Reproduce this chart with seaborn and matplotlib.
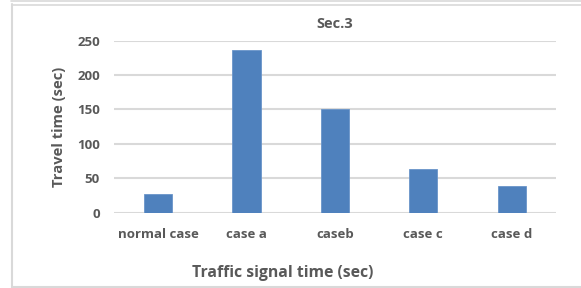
import matplotlib
matplotlib.use("Agg")
import matplotlib.pyplot as plt
import pandas as pd
import seaborn as sns
from matplotlib.lines import Line2D

# chart data
cases = ["normal case", "case a", "caseb", "case c", "case d"]
travel_time = [27, 236, 150, 64, 39]
y_ticks = [0, 50, 100, 150, 200, 250]

BAR_COLOR = "#4f81bd"
GRID_COLOR = "#d9d9d9"
TEXT_COLOR = "#595959"

W, H = 581, 288

sns.set_theme(style="white")
plt.rcParams["font.family"] = ["Open Sans", "DejaVu Sans"]

df = pd.DataFrame({"case": cases, "time": travel_time})

fig = plt.figure(figsize=(W / 100, H / 100), dpi=100)
ax = fig.add_axes([113.75 / W, 1 - 212.7 / H, (556 - 113.75) / W, (212.7 - 40.7) / H])

sns.barplot(data=df, x="case", y="time", color=BAR_COLOR, width=0.32,
            saturation=1, edgecolor="#6a95c9", linewidth=0.6, ax=ax, zorder=3)

ax.set_ylim(0, 250)
ax.set_yticks(y_ticks)
ax.set_xlim(-0.5, len(cases) - 0.5)
for t in y_ticks:
    ax.axhline(t, color=GRID_COLOR, linewidth=1.5, zorder=1)
for s in ax.spines.values():
    s.set_visible(False)
ax.tick_params(axis="both", length=0, colors=TEXT_COLOR, labelsize=9.5)
ax.tick_params(axis="x", pad=11)
ax.tick_params(axis="y", pad=10)
for lbl in ax.get_xticklabels() + ax.get_yticklabels():
    lbl.set_fontweight("bold")
    lbl.set_color(TEXT_COLOR)

ax.set_xlabel("Traffic signal time (sec)", fontsize=11.3, fontweight="bold", color=TEXT_COLOR)
ax.xaxis.set_label_coords((283 - 113.75) / (556 - 113.75), -(273 - 212.7) / (212.7 - 40.7))
ax.xaxis.label.set_va("center")
ax.set_ylabel("Travel time (sec)", fontsize=10.6, fontweight="bold", color=TEXT_COLOR)
ax.yaxis.set_label_coords(-(113.75 - 59) / (556 - 113.75), 0.5)
ax.yaxis.label.set_va("center")
ax.set_title("Sec.3", fontsize=10.5, fontweight="bold", color=TEXT_COLOR, pad=9)

# outer chart frame
fig.add_artist(Line2D([12 / W, 12 / W], [0, 1 - 4 / H], color=GRID_COLOR, linewidth=1.5))
fig.add_artist(Line2D([12 / W, 1], [1 - 4.5 / H, 1 - 4.5 / H], color=GRID_COLOR, linewidth=1.2))
fig.add_artist(Line2D([11 / W, 1], [1 - 0.8 / H, 1 - 0.8 / H], color=GRID_COLOR, linewidth=1.2))
fig.add_artist(Line2D([12 / W, 1], [1.2 / H, 1.2 / H], color=GRID_COLOR, linewidth=1.5))

fig.savefig("out.png", dpi=100)
plt.close(fig)
